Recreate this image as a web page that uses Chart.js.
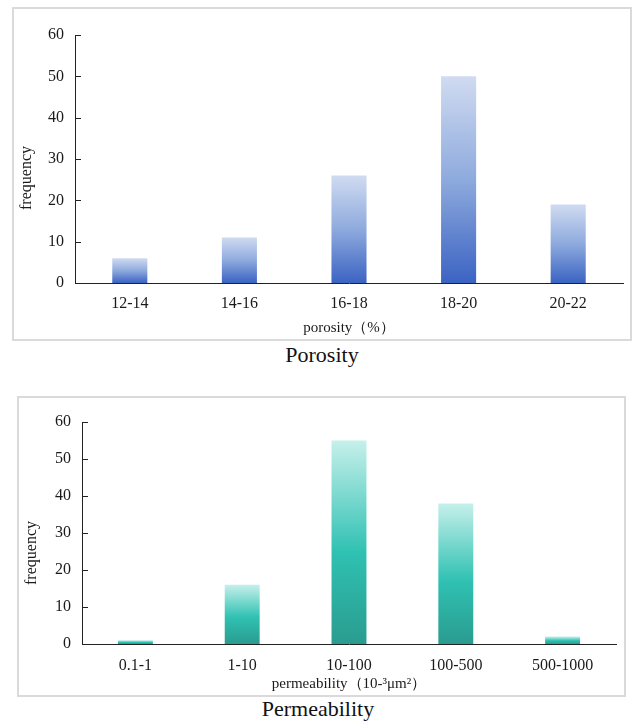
<!DOCTYPE html>
<html>
<head>
<meta charset="utf-8">
<script src="https://cdn.jsdelivr.net/npm/chart.js@4.4.1/dist/chart.umd.min.js"></script>
<style>
  body { margin: 0; background: #fff; width: 632px; height: 722px; position: relative; overflow: hidden; }
  .box { position: absolute; border: 2px solid #dadada; background: #fff; }
  .box canvas { display: block; }
  .cap { position: absolute; font-family: "Liberation Serif", "Times New Roman", serif; font-size: 22px; line-height: 22px; color: #111; text-align: center; white-space: nowrap; }
</style>
</head>
<body>
<div class="box" style="left:12px; top:7px;"><canvas id="poroChart" width="616" height="330"></canvas></div>
<div class="cap" style="left:222px; width:200px; top:344px;">Porosity</div>
<div class="box" style="left:17px; top:396px;"><canvas id="permChart" width="605" height="297"></canvas></div>
<div class="cap" style="left:218px; width:200px; top:698px;">Permeability</div>

<script>
// porosity histogram
let poroLabels = ["12-14", "14-16", "16-18", "18-20", "20-22"];
let poroCounts = [6, 11, 26, 50, 19];

// permeability histogram
let permLabels = ["0.1-1", "1-10", "10-100", "100-500", "500-1000"];
let permCounts = [1, 16, 55, 38, 2];

let yTicks = [0, 10, 20, 30, 40, 50, 60];

Chart.defaults.font.family = '"Liberation Serif", "Times New Roman", serif';
Chart.defaults.color = "#1a1a1a";

// each bar gets its own light-to-dark gradient
function barGradient(stops) {
	return (c) => {
		let chart = c.chart;
		if (!chart.chartArea || c.type !== "data") return stops[stops.length - 1][1];
		let y = chart.scales.y;
		let top = y.getPixelForValue(c.raw);
		let base = y.getPixelForValue(0);
		let g = chart.ctx.createLinearGradient(0, top, 0, base);
		stops.forEach((s) => g.addColorStop(s[0], s[1]));
		return g;
	};
}

// ticks pointing inside the plot + rotated y title
let axisExtras = {
	id: "axisExtras",
	afterDraw(chart, args, opts) {
		let ctx = chart.ctx;
		let y = chart.scales.y;
		let left = chart.chartArea.left;
		ctx.save();
		ctx.strokeStyle = "#222";
		ctx.lineWidth = 1;
		y.ticks.forEach((t) => {
			let py = Math.round(y.getPixelForValue(t.value)) + 0.5;
			ctx.beginPath();
			ctx.moveTo(left, py);
			ctx.lineTo(left + 6, py);
			ctx.stroke();
		});
		ctx.translate(opts.titleX, (chart.chartArea.top + chart.chartArea.bottom) / 2 + opts.titleShift);
		ctx.rotate(-Math.PI / 2);
		ctx.font = '16px "Liberation Serif", "Times New Roman", serif';
		ctx.fillStyle = "#1a1a1a";
		ctx.textAlign = "center";
		ctx.textBaseline = "middle";
		ctx.fillText("frequency", 0, 0);
		ctx.restore();
	},
};

function makeChart(id, labels, counts, stops, o) {
	return new Chart(document.getElementById(id).getContext("2d"), {
		type: "bar",
		data: {
			labels: labels,
			datasets: [
				{
					data: counts,
					backgroundColor: barGradient(stops),
					categoryPercentage: 1,
					barPercentage: o.barPct,
				},
			],
		},
		options: {
			responsive: false,
			animation: false,
			layout: { padding: { left: 0, top: o.padTop, right: o.padRight, bottom: 0 } },
			plugins: {
				legend: { display: false },
				tooltip: { enabled: false },
				axisExtras: { titleX: 13, titleShift: o.titleShift },
			},
			scales: {
				x: {
					grid: { display: false, drawTicks: false },
					border: { display: true, color: "#222", width: 1 },
					ticks: { font: { size: 16 }, padding: o.xPad, maxRotation: 0 },
					title: {
						display: true,
						text: o.xTitle,
						font: { size: 15 },
						padding: { top: 0, bottom: 2 },
					},
					afterFit: (s) => { s.height = o.xHeight; },
				},
				y: {
					min: 0,
					max: 60,
					afterBuildTicks: (s) => { s.ticks = yTicks.map((v) => ({ value: v })); },
					grid: { display: false, drawTicks: false },
					border: { display: true, color: "#222", width: 1 },
					ticks: { font: { size: 16 }, padding: 11 },
					afterFit: (s) => { s.width = o.yWidth; },
				},
			},
		},
		plugins: [axisExtras],
	});
}

makeChart("poroChart", poroLabels, poroCounts,
	[[0, "#d0dbf1"], [0.5, "#8eaadd"], [1, "#3b63c3"]],
	{ barPct: 0.32, padTop: 26, padRight: 7, xHeight: 56, yWidth: 61, xPad: 11, titleShift: 19, xTitle: "porosity（%）" });

makeChart("permChart", permLabels, permCounts,
	[[0, "#c6f0eb"], [0.55, "#2fc1b2"], [1, "#2a9c8f"]],
	{ barPct: 0.327, padTop: 24, padRight: 8, xHeight: 51, yWidth: 63, xPad: 12, titleShift: 20, xTitle: "permeability（10-³μm²）" });
</script>
</body>
</html>
